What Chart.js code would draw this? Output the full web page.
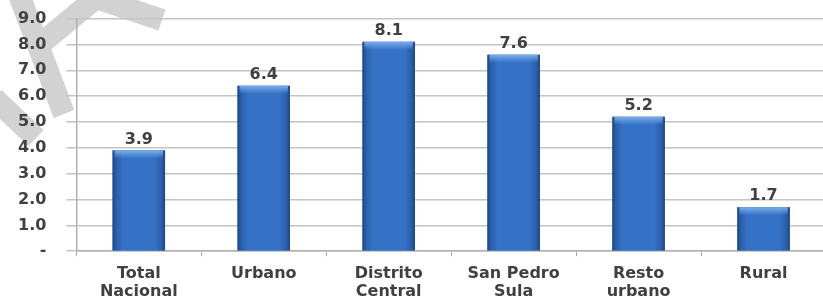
<!DOCTYPE html>
<html>
<head>
<meta charset="utf-8">
<script src="https://cdn.jsdelivr.net/npm/chart.js@4.4.1/dist/chart.umd.min.js"></script>
<style>
  html, body { margin: 0; padding: 0; background: #fff; overflow: hidden; }
  #wrap { width: 830px; height: 310px; position: relative; margin-top: -11px; }
</style>
</head>
<body>
<div id="wrap"><canvas id="chart"></canvas></div>
<script>
// categories and values
const categories = [
  ['Total', 'Nacional'],
  'Urbano',
  ['Distrito', 'Central'],
  ['San Pedro', 'Sula'],
  ['Resto', 'urbano'],
  'Rural'
];
const values = [3.9, 6.4, 8.1, 7.6, 5.2, 1.7];
const yTicks = [0, 1, 2, 3, 4, 5, 6, 7, 8, 9];

const textColor = '#404040';
const fontFamily = '"DejaVu Sans", Verdana, sans-serif';

// grey marks in the top-left corner of the picture (canvas is shifted up 11px)
const watermark = {
  id: 'watermark',
  beforeDraw(chart) {
    const c = chart.ctx;
    c.save();
    c.translate(0, 11);
    c.strokeStyle = '#d2d2d2';
    c.lineWidth = 22;
    c.beginPath();
    c.moveTo(18, -8); c.lineTo(64, 114);
    c.moveTo(38, 46); c.lineTo(96, -2); c.lineTo(162, 20);
    c.moveTo(-6, 98); c.lineTo(36, 138);
    c.stroke();
    c.restore();
  }
};

// shade each bar (dark edges, light top) using the bar geometry from the scales
const barShade = {
  id: 'barShade',
  afterDatasetsDraw(chart) {
    const c = chart.ctx;
    const meta = chart.getDatasetMeta(0);
    c.save();
    meta.data.forEach(bar => {
      const w = bar.width, x0 = bar.x - w / 2, top = bar.y, h = bar.base - bar.y;
      const g = c.createLinearGradient(x0, 0, x0 + w, 0);
      g.addColorStop(0, '#1d4682');
      g.addColorStop(0.07, '#2b5fab');
      g.addColorStop(0.2, '#3572c6');
      g.addColorStop(0.8, '#3572c6');
      g.addColorStop(0.93, '#2b5fab');
      g.addColorStop(1, '#1d4682');
      c.fillStyle = g;
      c.fillRect(x0, top, w, h);
      const t = c.createLinearGradient(0, top, 0, top + 8);
      t.addColorStop(0, 'rgba(125,178,240,0.95)');
      t.addColorStop(1, 'rgba(125,178,240,0)');
      c.fillStyle = t;
      c.fillRect(x0 + 2, top, w - 4, 8);
    });
    c.restore();
  }
};

// value labels above bars
const valueLabels = {
  id: 'valueLabels',
  afterDatasetsDraw(chart) {
    const c = chart.ctx;
    const meta = chart.getDatasetMeta(0);
    c.save();
    c.fillStyle = textColor;
    c.font = 'bold 16px ' + fontFamily;
    c.textAlign = 'center';
    c.textBaseline = 'bottom';
    meta.data.forEach((bar, i) => {
      c.fillText(values[i].toFixed(1), bar.x, bar.y - 3);
    });
    c.restore();
  }
};

new Chart(document.getElementById('chart'), {
  type: 'bar',
  data: {
    labels: categories,
    datasets: [{
      data: values,
      backgroundColor: '#3572c6',
      borderWidth: 0,
      barPercentage: 0.42,
      categoryPercentage: 1
    }]
  },
  options: {
    responsive: true,
    maintainAspectRatio: false,
    animation: false,
    layout: { padding: { left: -2, right: 4, top: 0, bottom: -10 } },
    plugins: { legend: { display: false }, tooltip: { enabled: false } },
    scales: {
      x: {
        offset: true,
        grid: { display: true, drawOnChartArea: false, drawTicks: true, tickLength: 5, color: '#a8a8a8', offset: true },
        border: { display: true, color: '#b0b0b0', width: 1.5 },
        ticks: { color: textColor, font: { family: fontFamily, size: 16, weight: 'bold', lineHeight: 1.15 }, padding: 8, maxRotation: 0, autoSkip: false }
      },
      y: {
        min: 0,
        max: 9,
        afterBuildTicks(axis) { axis.ticks = yTicks.map(v => ({ value: v })); },
        grid: { color: '#c4c4c4', lineWidth: 1.5, tickLength: 10 },
        border: { display: true, color: '#b0b0b0', width: 1.5 },
        ticks: {
          color: textColor,
          padding: 20,
          font: { family: fontFamily, size: 16, weight: 'bold' },
          callback: v => v === 0 ? '-' : v.toFixed(1)
        }
      }
    }
  },
  plugins: [watermark, barShade, valueLabels]
});
</script>
</body>
</html>
